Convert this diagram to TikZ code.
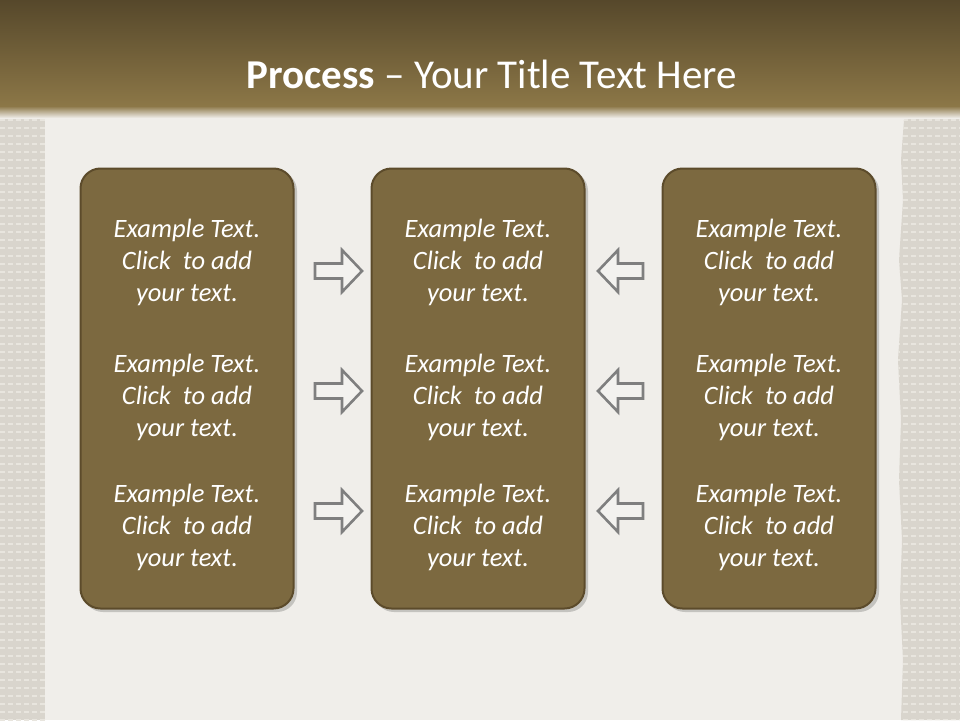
\documentclass[tikz,border=0pt]{standalone}
\usepackage{fontspec}
\setmainfont{Carlito}
\usetikzlibrary{calc}
\definecolor{paper}{HTML}{F0EEEA}
\definecolor{burlap}{HTML}{D9D5CD}
\definecolor{weave}{HTML}{E8E5DE}
\definecolor{bandtop}{HTML}{56482B}
\definecolor{bandbot}{HTML}{8C7747}
\definecolor{boxfill}{HTML}{7C6940}
\definecolor{boxline}{HTML}{5C4B2B}
\definecolor{arrowline}{HTML}{7F7F7F}
\definecolor{arrowfill}{HTML}{F3F2EF}
\tikzset{
  panel/.style={draw=boxline, line width=2pt, fill=boxfill, rounded corners=20pt,
    minimum width=213pt, minimum height=440pt, inner sep=0pt},
  blocktext/.style={text=white, font=\fontsize{26.5}{32}\selectfont\itshape, align=center, inner sep=0pt},
  blockarrow/.style={draw=arrowline, line width=2.6pt, fill=arrowfill, line join=miter},
}
\newcommand{\blocktxt}{Example Text.\\Click~ to add\\your text.}
\begin{document}
\begin{tikzpicture}[x=1pt,y=-1pt]
\useasboundingbox (0,0) rectangle (960,720);
% background
\fill[paper] (0,0) rectangle (960,720);
% burlap strips
\fill[burlap] (0,0) rectangle (45,720);
\fill[burlap] (960,0) -- (906,0) -- (904,120) -- (901,160) -- (903,200) -- (899,260) -- (902,300) -- (898,360) -- (901,420) -- (899,480) -- (902,540) -- (900,600) -- (903,660) -- (901,720) -- (960,720) -- cycle;
\begin{scope}
\clip (0,0) rectangle (45,720);
\foreach \yy in {0,8,...,720} {\draw[weave, line width=1.6pt, dash pattern=on 5pt off 3pt] (0,\yy) -- (45,\yy);}
\end{scope}
\begin{scope}
\clip (960,0) -- (906,0) -- (904,120) -- (901,160) -- (903,200) -- (899,260) -- (902,300) -- (898,360) -- (901,420) -- (899,480) -- (902,540) -- (900,600) -- (903,660) -- (901,720) -- (960,720) -- cycle;
\foreach \yy in {0,8,...,720} {\draw[weave, line width=1.6pt, dash pattern=on 5pt off 3pt] (895,\yy) -- (960,\yy);}
\end{scope}
% header band
\shade[top color=bandtop, bottom color=bandbot] (0,0) rectangle (960,106);
\shade[top color=bandbot, bottom color=paper] (0,106) rectangle (960,118);
\node[text=white, font=\fontsize{41}{44}\selectfont, inner sep=0pt] (title) at (492,74) {\textbf{Process} – Your Title Text Here};
% panels with shadows
\foreach \n/\cx in {L/187, M/478, R/769} {
  \fill[black, opacity=0.18, rounded corners=20pt] (\cx-104,171) rectangle (\cx+110,612);
  \node[panel] (\n) at (\cx,388.5) {};
}
% texts
\foreach \n/\cx in {L/187, M/478, R/769} {
  \foreach \k/\cy in {1/262, 2/397, 3/527} {
    \node[blocktext] (\n\k) at (\cx,\cy) {\blocktxt};
  }
}
% arrows
\foreach \k/\cy in {1/271, 2/391, 3/511} {
  \coordinate (ra\k) at (315,\cy);
  \draw[blockarrow] (ra\k) ++(0,-7.5) -- ++(27,0) -- ++(0,-13.5) -- ++(20,21) -- ++(-20,21) -- ++(0,-13.5) -- ++(-27,0) -- cycle;
  \coordinate (la\k) at (643,\cy);
  \draw[blockarrow] (la\k) ++(0,-7.5) -- ++(-25,0) -- ++(0,-13.5) -- ++(-20,21) -- ++(20,21) -- ++(0,-13.5) -- ++(25,0) -- cycle;
}
\end{tikzpicture}
\end{document}
